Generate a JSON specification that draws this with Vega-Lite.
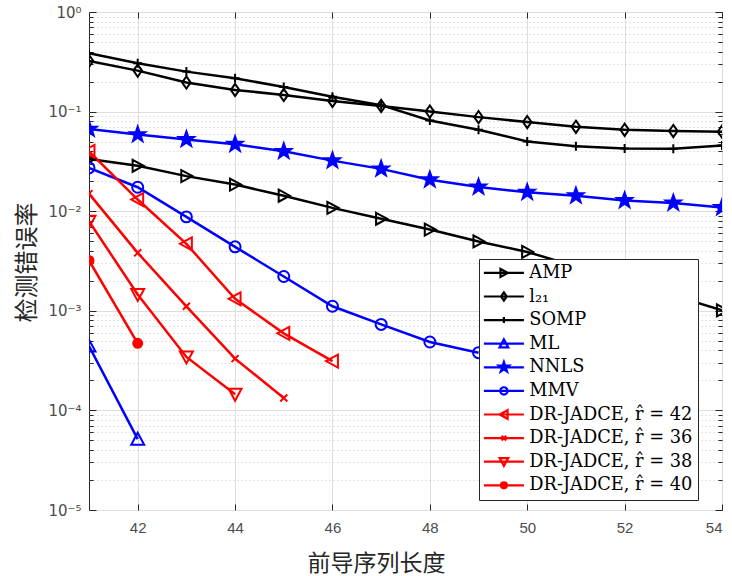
{
  "$schema": "https://vega.github.io/schema/vega-lite/v6.json",
  "width": 633,
  "height": 498,
  "autosize": {"type": "none"},
  "padding": {"left": 89, "top": 12, "right": 10, "bottom": 66},
  "background": "white",
  "config": {
    "view": {"stroke": "#262626", "strokeWidth": 1},
    "axis": {"domain": false, "labelColor": "#4d4d4d", "tickColor": "#262626", "titleColor": "#262626", "titleFontWeight": "normal", "labelFont": "Liberation Sans", "labelFontSize": 15},
    "legend": {"orient": "none", "legendX": 390, "legendY": 247, "fillColor": "white", "strokeColor": "#262626", "padding": 5, "zindex": 5,
      "labelFont": "DejaVu Serif", "labelFontSize": 17.8, "labelColor": "black", "labelLimit": 300, "labelOffset": 16.5, "symbolOffset": 11, "symbolSize": 36, "symbolStrokeWidth": 2.2, "symbolOpacity": 1, "rowPadding": 4.6}
  },
  "data": {"values": [
    {"series": "AMP", "x": 41, "y": 0.0334},
    {"series": "AMP", "x": 42, "y": 0.0286},
    {"series": "AMP", "x": 43, "y": 0.0225},
    {"series": "AMP", "x": 44, "y": 0.0185},
    {"series": "AMP", "x": 45, "y": 0.0143},
    {"series": "AMP", "x": 46, "y": 0.0108},
    {"series": "AMP", "x": 47, "y": 0.0084},
    {"series": "AMP", "x": 48, "y": 0.00654},
    {"series": "AMP", "x": 49, "y": 0.00497},
    {"series": "AMP", "x": 50, "y": 0.0039},
    {"series": "AMP", "x": 51, "y": 0.00279},
    {"series": "AMP", "x": 52, "y": 0.00202},
    {"series": "AMP", "x": 53, "y": 0.00143},
    {"series": "AMP", "x": 54, "y": 0.00101},
    {"series": "l₂₁", "x": 41, "y": 0.323},
    {"series": "l₂₁", "x": 42, "y": 0.258},
    {"series": "l₂₁", "x": 43, "y": 0.196},
    {"series": "l₂₁", "x": 44, "y": 0.165},
    {"series": "l₂₁", "x": 45, "y": 0.147},
    {"series": "l₂₁", "x": 46, "y": 0.128},
    {"series": "l₂₁", "x": 47, "y": 0.114},
    {"series": "l₂₁", "x": 48, "y": 0.1},
    {"series": "l₂₁", "x": 49, "y": 0.088},
    {"series": "l₂₁", "x": 50, "y": 0.0785},
    {"series": "l₂₁", "x": 51, "y": 0.0704},
    {"series": "l₂₁", "x": 52, "y": 0.0657},
    {"series": "l₂₁", "x": 53, "y": 0.0638},
    {"series": "l₂₁", "x": 54, "y": 0.0628},
    {"series": "SOMP", "x": 41, "y": 0.385},
    {"series": "SOMP", "x": 42, "y": 0.306},
    {"series": "SOMP", "x": 43, "y": 0.252},
    {"series": "SOMP", "x": 44, "y": 0.216},
    {"series": "SOMP", "x": 45, "y": 0.177},
    {"series": "SOMP", "x": 46, "y": 0.141},
    {"series": "SOMP", "x": 47, "y": 0.116},
    {"series": "SOMP", "x": 48, "y": 0.0814},
    {"series": "SOMP", "x": 49, "y": 0.0657},
    {"series": "SOMP", "x": 50, "y": 0.0502},
    {"series": "SOMP", "x": 51, "y": 0.0448},
    {"series": "SOMP", "x": 52, "y": 0.0427},
    {"series": "SOMP", "x": 53, "y": 0.0424},
    {"series": "SOMP", "x": 54, "y": 0.0458},
    {"series": "ML", "x": 41, "y": 0.000443},
    {"series": "ML", "x": 42, "y": 0.0000514},
    {"series": "NNLS", "x": 41, "y": 0.0667},
    {"series": "NNLS", "x": 42, "y": 0.0588},
    {"series": "NNLS", "x": 43, "y": 0.0526},
    {"series": "NNLS", "x": 44, "y": 0.047},
    {"series": "NNLS", "x": 45, "y": 0.0399},
    {"series": "NNLS", "x": 46, "y": 0.0322},
    {"series": "NNLS", "x": 47, "y": 0.0266},
    {"series": "NNLS", "x": 48, "y": 0.0207},
    {"series": "NNLS", "x": 49, "y": 0.0175},
    {"series": "NNLS", "x": 50, "y": 0.0155},
    {"series": "NNLS", "x": 51, "y": 0.0143},
    {"series": "NNLS", "x": 52, "y": 0.0128},
    {"series": "NNLS", "x": 53, "y": 0.0121},
    {"series": "NNLS", "x": 54, "y": 0.0109},
    {"series": "MMV", "x": 41, "y": 0.0272},
    {"series": "MMV", "x": 42, "y": 0.0174},
    {"series": "MMV", "x": 43, "y": 0.00877},
    {"series": "MMV", "x": 44, "y": 0.00439},
    {"series": "MMV", "x": 45, "y": 0.00221},
    {"series": "MMV", "x": 46, "y": 0.00111},
    {"series": "MMV", "x": 47, "y": 0.00073},
    {"series": "MMV", "x": 48, "y": 0.000486},
    {"series": "MMV", "x": 49, "y": 0.00038},
    {"series": "DR-JADCE, r̂ = 42", "x": 41, "y": 0.0398},
    {"series": "DR-JADCE, r̂ = 42", "x": 42, "y": 0.0131},
    {"series": "DR-JADCE, r̂ = 42", "x": 43, "y": 0.0047},
    {"series": "DR-JADCE, r̂ = 42", "x": 44, "y": 0.00132},
    {"series": "DR-JADCE, r̂ = 42", "x": 45, "y": 0.000594},
    {"series": "DR-JADCE, r̂ = 42", "x": 46, "y": 0.000313},
    {"series": "DR-JADCE, r̂ = 36", "x": 41, "y": 0.015},
    {"series": "DR-JADCE, r̂ = 36", "x": 42, "y": 0.00382},
    {"series": "DR-JADCE, r̂ = 36", "x": 43, "y": 0.00111},
    {"series": "DR-JADCE, r̂ = 36", "x": 44, "y": 0.000331},
    {"series": "DR-JADCE, r̂ = 36", "x": 45, "y": 0.000133},
    {"series": "DR-JADCE, r̂ = 38", "x": 41, "y": 0.00792},
    {"series": "DR-JADCE, r̂ = 38", "x": 42, "y": 0.00146},
    {"series": "DR-JADCE, r̂ = 38", "x": 43, "y": 0.000344},
    {"series": "DR-JADCE, r̂ = 38", "x": 44, "y": 0.000145},
    {"series": "DR-JADCE, r̂ = 40", "x": 41, "y": 0.0032},
    {"series": "DR-JADCE, r̂ = 40", "x": 42, "y": 0.000471}
  ]},
  "resolve": {
    "axis": {"x": "independent", "y": "independent"},
    "scale": {"stroke": "independent", "fill": "independent", "shape": "independent"}
  },
  "layer": [
    {
      "mark": {"type": "line", "strokeWidth": 2.5, "clip": true},
      "encoding": {
        "x": {"field": "x", "type": "quantitative",
          "scale": {"domain": [41, 54], "nice": false, "zero": false},
          "axis": {"orient": "bottom", "values": [42, 44, 46, 48, 50, 52, 54], "grid": true, "gridColor": "#dedede", "gridWidth": 1, "tickSize": -6, "labelPadding": 16, "title": "前导序列长度", "titleFont": "Noto Sans CJK SC", "titleFontSize": 23, "titlePadding": 17, "titleX": 287}},
        "y": {"field": "y", "type": "quantitative",
          "scale": {"type": "log", "domain": [0.00001, 1], "nice": false},
          "axis": {"orient": "left", "values": [0.00001, 0.0001, 0.001, 0.01, 0.1, 1], "grid": true, "gridColor": "#dedede", "gridWidth": 1, "tickSize": -7, "labelPadding": 15, "labelFont": "DejaVu Sans", "labelFontSize": 15, "labelExpr": "'10' + ['⁰','⁻¹','⁻²','⁻³','⁻⁴','⁻⁵'][-round(log(datum.value)/LN10)]", "title": "检测错误率", "titleFont": "Noto Sans CJK SC", "titleFontSize": 24, "titleX": -50, "titleY": 250}},
        "stroke": {"field": "series", "type": "nominal",
          "scale": {"domain": ["AMP", "l₂₁", "SOMP", "ML", "NNLS", "MMV", "DR-JADCE, r̂ = 42", "DR-JADCE, r̂ = 36", "DR-JADCE, r̂ = 38", "DR-JADCE, r̂ = 40"],
                    "range": ["#000000", "#000000", "#000000", "#0000ff", "#0000ff", "#0000ff", "#ff0000", "#ff0000", "#ff0000", "#ff0000"]},
          "legend": null}
      }
    },
    {
      "mark": {"type": "point", "strokeWidth": 2, "size": 81, "opacity": 1, "clip": true},
      "encoding": {
        "x": {"field": "x", "type": "quantitative",
          "axis": {"orient": "top", "values": [42, 44, 46, 48, 50, 52, 54], "grid": false, "labels": false, "tickSize": -6, "title": null}},
        "y": {"field": "y", "type": "quantitative",
          "axis": {"orient": "right", "values": [0.00001, 0.0001, 0.001, 0.01, 0.1, 1], "grid": false, "labels": false, "tickSize": -7, "title": null}},
        "stroke": {"field": "series", "type": "nominal",
          "scale": {"domain": ["AMP", "l₂₁", "SOMP", "ML", "NNLS", "MMV", "DR-JADCE, r̂ = 42", "DR-JADCE, r̂ = 36", "DR-JADCE, r̂ = 38", "DR-JADCE, r̂ = 40"],
                    "range": ["#000000", "#000000", "#000000", "#0000ff", "#0000ff", "#0000ff", "#ff0000", "#ff0000", "#ff0000", "#ff0000"]},
          "legend": null},
        "fill": {"field": "series", "type": "nominal",
          "scale": {"domain": ["AMP", "l₂₁", "SOMP", "ML", "NNLS", "MMV", "DR-JADCE, r̂ = 42", "DR-JADCE, r̂ = 36", "DR-JADCE, r̂ = 38", "DR-JADCE, r̂ = 40"],
                    "range": ["transparent", "transparent", "transparent", "transparent", "#0000ff", "transparent", "transparent", "transparent", "transparent", "#ff0000"]},
          "legend": null},
        "shape": {"field": "series", "type": "nominal",
          "scale": {"domain": ["AMP", "l₂₁", "SOMP", "ML", "NNLS", "MMV", "DR-JADCE, r̂ = 42", "DR-JADCE, r̂ = 36", "DR-JADCE, r̂ = 38", "DR-JADCE, r̂ = 40"],
                    "range": [
                      "M-1.13,-1.33L1.33,0L-1.13,1.33Z",
                      "M0,-1.36L0.95,0L0,1.36L-0.95,0Z",
                      "M-1,0H1M0,-1V1",
                      "M-1.44,1.22L0,-1.44L1.44,1.22Z",
                      "M0,-1.78L0.418,-0.577L1.693,-0.55L0.676,0.221L1.047,1.44L0,0.712L-1.047,1.44L-0.676,0.221L-1.693,-0.55L-0.418,-0.577Z",
                      "M1.22,0A1.22,1.22,0,1,1,-1.22,0A1.22,1.22,0,1,1,1.22,0Z",
                      "M1.22,-1.44L-1.44,0L1.22,1.44Z",
                      "M-0.78,-0.78L0.78,0.78M-0.78,0.78L0.78,-0.78",
                      "M-1.44,-1.22L0,1.44L1.44,-1.22Z",
                      "M1,0A1,1,0,1,1,-1,0A1,1,0,1,1,1,0Z"
                    ]},
          "legend": null}
      }
    },
    {
      "transform": [{"filter": "datum.x > 1000"}],
      "mark": {"type": "point", "strokeWidth": 2.2, "opacity": 1},
      "encoding": {
        "stroke": {"field": "series", "type": "nominal",
          "scale": {"domain": ["AMP", "l₂₁", "SOMP", "ML", "NNLS", "MMV", "DR-JADCE, r̂ = 42", "DR-JADCE, r̂ = 36", "DR-JADCE, r̂ = 38", "DR-JADCE, r̂ = 40"],
                    "range": ["#000000", "#000000", "#000000", "#0000ff", "#0000ff", "#0000ff", "#ff0000", "#ff0000", "#ff0000", "#ff0000"]},
          "legend": {"title": null}},
        "fill": {"field": "series", "type": "nominal",
          "scale": {"domain": ["AMP", "l₂₁", "SOMP", "ML", "NNLS", "MMV", "DR-JADCE, r̂ = 42", "DR-JADCE, r̂ = 36", "DR-JADCE, r̂ = 38", "DR-JADCE, r̂ = 40"],
                    "range": ["transparent", "transparent", "transparent", "transparent", "#0000ff", "transparent", "transparent", "transparent", "transparent", "#ff0000"]},
          "legend": {"title": null}},
        "shape": {"field": "series", "type": "nominal",
          "scale": {"domain": ["AMP", "l₂₁", "SOMP", "ML", "NNLS", "MMV", "DR-JADCE, r̂ = 42", "DR-JADCE, r̂ = 36", "DR-JADCE, r̂ = 38", "DR-JADCE, r̂ = 40"],
                    "range": [
                      "M-6.67,0H6.67M-1.13,-1.33L1.33,0L-1.13,1.33Z",
                      "M-6.67,0H6.67M0,-1.36L0.95,0L0,1.36L-0.95,0Z",
                      "M-6.67,0H6.67M-1,0H1M0,-1V1",
                      "M-6.67,0H6.67M-1.44,1.22L0,-1.44L1.44,1.22Z",
                      "M-6.67,0H6.67M0,-1.78L0.418,-0.577L1.693,-0.55L0.676,0.221L1.047,1.44L0,0.712L-1.047,1.44L-0.676,0.221L-1.693,-0.55L-0.418,-0.577Z",
                      "M-6.67,0H6.67M1.22,0A1.22,1.22,0,1,1,-1.22,0A1.22,1.22,0,1,1,1.22,0Z",
                      "M-6.67,0H6.67M1.22,-1.44L-1.44,0L1.22,1.44Z",
                      "M-6.67,0H6.67M-0.78,-0.78L0.78,0.78M-0.78,0.78L0.78,-0.78",
                      "M-6.67,0H6.67M-1.44,-1.22L0,1.44L1.44,-1.22Z",
                      "M-6.67,0H6.67M1,0A1,1,0,1,1,-1,0A1,1,0,1,1,1,0Z"
                    ]},
          "legend": {"title": null}}
      }
    },
    {
      "mark": {"type": "point", "opacity": 0},
      "encoding": {
        "x": {"field": "x", "type": "quantitative", "axis": null},
        "y": {"field": "y", "type": "quantitative",
          "axis": {"orient": "left", "values": [0.00002, 0.00003, 0.00004, 0.00005, 0.00006, 0.00007, 0.00008, 0.00009, 0.0002, 0.0003, 0.0004, 0.0005, 0.0006, 0.0007, 0.0008, 0.0009, 0.002, 0.003, 0.004, 0.005, 0.006, 0.007, 0.008, 0.009, 0.02, 0.03, 0.04, 0.05, 0.06, 0.07, 0.08, 0.09, 0.2, 0.3, 0.4, 0.5, 0.6, 0.7, 0.8, 0.9], "grid": true, "gridColor": "#c8c8c8", "gridDash": [1, 3], "gridWidth": 1, "labels": false, "tickSize": -4, "title": null}}
      }
    },
    {
      "mark": {"type": "point", "opacity": 0},
      "encoding": {
        "x": {"field": "x", "type": "quantitative", "axis": null},
        "y": {"field": "y", "type": "quantitative",
          "axis": {"orient": "right", "values": [0.00002, 0.00003, 0.00004, 0.00005, 0.00006, 0.00007, 0.00008, 0.00009, 0.0002, 0.0003, 0.0004, 0.0005, 0.0006, 0.0007, 0.0008, 0.0009, 0.002, 0.003, 0.004, 0.005, 0.006, 0.007, 0.008, 0.009, 0.02, 0.03, 0.04, 0.05, 0.06, 0.07, 0.08, 0.09, 0.2, 0.3, 0.4, 0.5, 0.6, 0.7, 0.8, 0.9], "grid": false, "labels": false, "tickSize": -4, "title": null}}
      }
    }
  ]
}
